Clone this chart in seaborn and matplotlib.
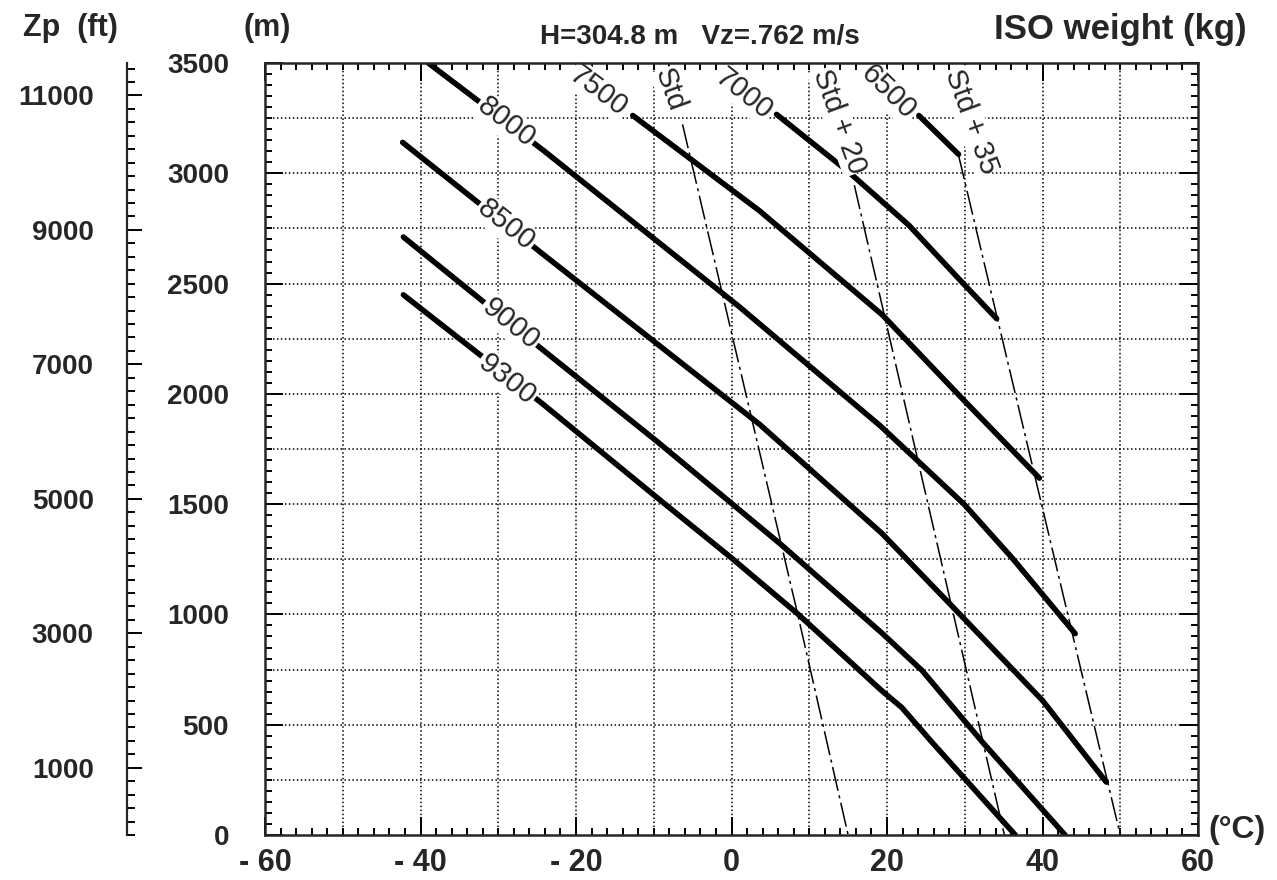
import numpy as np
import pandas as pd
import matplotlib
matplotlib.use("Agg")
import matplotlib.pyplot as plt
import seaborn as sns
from matplotlib.ticker import MultipleLocator, FixedLocator

# ISO weight curves: OAT (deg C) vs pressure altitude Zp (m)
weights = ["6500", "7000", "7500", "8000", "8500", "9000", "9300"]
w6500_T = [24.1, 29.2]
w6500_Z = [3262, 3086]
w7000_T = [5.8, 15.1, 22.8, 29.6, 34.1]
w7000_Z = [3267, 3005, 2765, 2508, 2341]
w7500_T = [-12.7, 3.6, 19.4, 29.5, 39.6]
w7500_Z = [3262, 2830, 2358, 1985, 1618]
w8000_T = [-39.0, -24.2, 1.0, 19.2, 29.9, 36.1, 44.2]
w8000_Z = [3500, 3104, 2395, 1853, 1500, 1256, 913]
w8500_T = [-42.3, -24.6, 3.6, 19.3, 27.7, 40.0, 48.2]
w8500_Z = [3140, 2643, 1862, 1369, 1062, 610, 240]
w9000_T = [-42.2, -24.0, -9.6, 6.3, 19.3, 24.5, 32.3, 42.9]
w9000_Z = [2711, 2192, 1785, 1319, 917, 746, 420, 0]
w9300_T = [-42.2, -24.2, -9.8, 0.0, 8.5, 19.3, 21.9, 25.8, 36.5]
w9300_Z = [2449, 1952, 1536, 1256, 1003, 655, 578, 420, 0]

# label anchor points (centre of the label, on the curve)
lbl_T = [20.2, 1.6, -17.1, -29.0, -29.0, -28.4, -28.9]
lbl_Z = [3367, 3360, 3375, 3230, 2765, 2318, 2065]

# standard atmosphere lines
std_names = ["Std", "Std + 20", "Std + 35"]
std_T = [-6.3, 8.5, 15.0]
std_Z = [3222, 1003, 0]
std20_T = [15.8, 35.1]
std20_Z = [2946, 0]
std35_T = [29.2, 50.0]
std35_Z = [3082, 0]
std_lbl_T = [-7.9, 13.8, 30.8]
std_lbl_Z = [3380, 3235, 3235]

x_ticks = [-60, -40, -20, 0, 20, 40, 60]
x_labels = ["- 60", "- 40", "- 20", "0", "20", "40", "60"]
y_ticks = [0, 500, 1000, 1500, 2000, 2500, 3000, 3500]
ft_ticks = [1000, 3000, 5000, 7000, 9000, 11000]

curves = [(w6500_T, w6500_Z), (w7000_T, w7000_Z), (w7500_T, w7500_Z),
          (w8000_T, w8000_Z), (w8500_T, w8500_Z), (w9000_T, w9000_Z),
          (w9300_T, w9300_Z)]
df = pd.concat([pd.DataFrame({"T": t, "Z": z, "w": w})
                for w, (t, z) in zip(weights, curves)], ignore_index=True)
std_lines = [(std_T, std_Z), (std20_T, std20_Z), (std35_T, std35_Z)]

sns.set_style("ticks")
plt.rcParams["font.family"] = ["Liberation Sans", "DejaVu Sans"]
plt.rcParams["font.weight"] = "bold"

W, H = 1277, 880
fig = plt.figure(figsize=(W / 100, H / 100), dpi=100)
ax = fig.add_axes([265 / W, 1 - 835 / H, (1198 - 265) / W, (835 - 63) / H])

ax.set_xlim(-60, 60)
ax.set_ylim(0, 3500)

dots = (0, (1, 1.6))
for x in range(-50, 60, 10):
    ax.axvline(x, color="black", lw=1.1, ls=dots, zorder=1)
for y in range(250, 3500, 250):
    ax.axhline(y, color="black", lw=1.1, ls=dots, zorder=1)

sns.lineplot(data=df, x="T", y="Z", units="w", estimator=None, sort=False,
             color="black", lw=4.0, ax=ax, zorder=3, legend=False)
for t, z in std_lines:
    sns.lineplot(x=t, y=z, sort=False, estimator=None, color="black", lw=1.1,
                 dashes=False, ax=ax, zorder=2)
for ln in ax.lines[-3:]:
    ln.set_dashes((16, 3, 2, 3))

# curve labels rotated along the curves
for w, (t, z), lt, lz in zip(weights, curves, lbl_T, lbl_Z):
    ang = np.degrees(np.arctan2(z[1] - z[0], t[1] - t[0]))
    rot = ax.transData.transform_angles(np.array([ang]), np.array([[lt, lz]]))[0]
    ax.text(lt, lz, w, rotation=rot, rotation_mode="anchor", ha="center", va="center",
            fontsize=21, fontweight="normal", zorder=6,
            bbox=dict(facecolor="white", edgecolor="none", pad=1.0))

for name, lt, lz in zip(std_names, std_lbl_T, std_lbl_Z):
    ax.text(lt, lz, name, rotation=-70, rotation_mode="anchor", ha="center", va="center",
            fontsize=21, fontweight="normal", zorder=6,
            bbox=dict(facecolor="white", edgecolor="none", pad=0.3))

ax.xaxis.set_major_locator(FixedLocator(x_ticks))
ax.set_xticklabels(x_labels)
ax.xaxis.set_minor_locator(MultipleLocator(2))
ax.yaxis.set_major_locator(FixedLocator(y_ticks))
ax.yaxis.set_minor_locator(MultipleLocator(50))
ax.tick_params(which="both", direction="in", top=True, right=True, width=1.4, color="black")
ax.tick_params(which="major", length=13)
ax.tick_params(which="minor", length=5)
ax.tick_params(axis="x", which="major", pad=9, labelsize=22)
ax.tick_params(axis="y", which="major", pad=26, labelsize=20)
for sp in ax.spines.values():
    sp.set_linewidth(1.8)
    sp.set_zorder(8)
ax.set_xlabel("")
ax.set_ylabel("")

# altitude in feet on a separate scale
ax_ft = fig.add_axes([127 / W, 1 - 835 / H, 0.0005, (835 - 63) / H])
ax_ft.set_ylim(0, 3500 / 0.3048)
ax_ft.set_xticks([])
for k in ["top", "right", "bottom"]:
    ax_ft.spines[k].set_visible(False)
ax_ft.spines["left"].set_linewidth(1.6)
ax_ft.yaxis.set_major_locator(FixedLocator(ft_ticks))
ax_ft.yaxis.set_minor_locator(MultipleLocator(200))
ax_ft.tick_params(which="both", direction="in", width=1.4, color="black")
ax_ft.tick_params(which="major", length=11, pad=24, labelsize=20)
ax_ft.tick_params(which="minor", length=6)
ax_ft.patch.set_visible(False)

fig.text(70 / W, 1 - 28 / H, "Zp  (ft)", ha="center", va="center", fontsize=22)
fig.text(267 / W, 1 - 28 / H, "(m)", ha="center", va="center", fontsize=22)
fig.text(700 / W, 1 - 37 / H, "H=304.8 m   Vz=.762 m/s", ha="center", va="center", fontsize=20)
fig.text(1120 / W, 1 - 30 / H, "ISO weight (kg)", ha="center", va="center", fontsize=25)
fig.text(1237 / W, 1 - 830 / H, "(°C)", ha="center", va="center", fontsize=23)

fig.savefig("out.png", dpi=100, facecolor="white")
